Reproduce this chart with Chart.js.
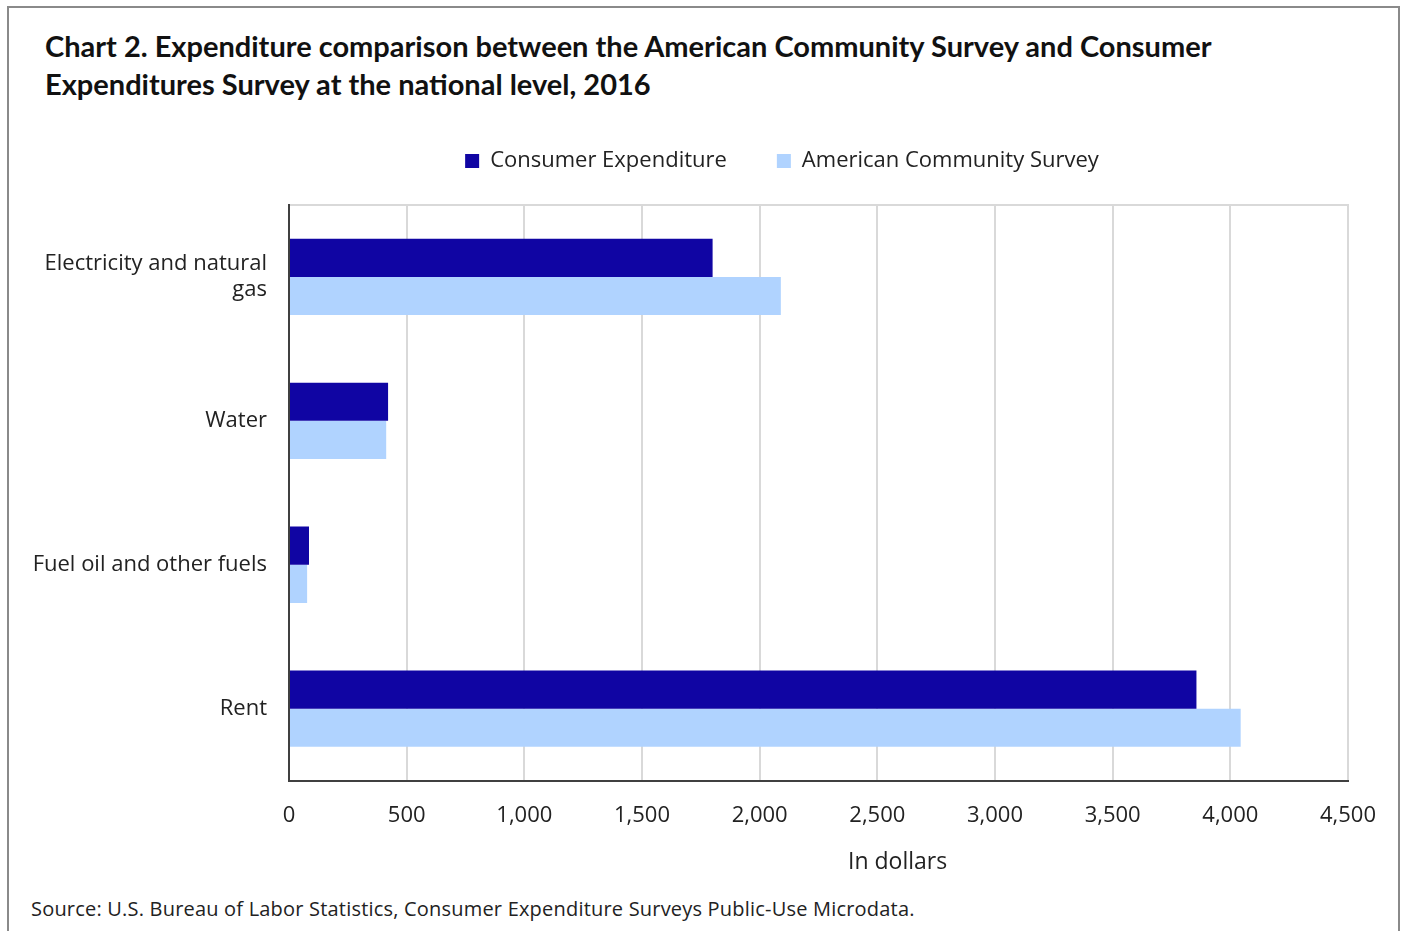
<!DOCTYPE html>
<html>
<head>
<meta charset="utf-8">
<script src="https://cdn.jsdelivr.net/npm/chart.js@4"></script>
<style>
    body { margin: 0; background: #fff; font-family: 'Open Sans', sans-serif; }
    #frame { position: absolute; left: 7px; top: 6px; width: 1389px; height: 1000px; border: 2px solid #8a8a8a; }
    #title { position: absolute; left: 45px; top: 27px; font-family: Lato, sans-serif; font-weight: bold; font-size: 29px; line-height: 38px; color: #111; }
    #wrap { position: absolute; left: 0; top: 100px; width: 1401px; height: 795px; }
    #xTitle { position: absolute; left: 848px; top: 844px; font-size: 23px; color: #222; }
    #source { position: absolute; left: 31px; top: 895px; font-size: 20px; letter-spacing: 0.2px; color: #222; }
</style>
</head>
<body>
<div id="frame"></div>
<div id="title">Chart 2. Expenditure comparison between the American Community Survey and Consumer<br>Expenditures Survey at the national level, 2016</div>
<div id="wrap"><canvas id="chart"></canvas></div>
<div id="xTitle">In dollars</div>
<div id="source">Source: U.S. Bureau of Labor Statistics, Consumer Expenditure Surveys Public-Use Microdata.</div>
<script>
// Dữ liệu
const categories = [['Electricity and natural', 'gas'], 'Water', 'Fuel oil and other fuels', 'Rent'];
const consumerExpenditure = [1800, 421, 85, 3856];
const communitySurvey = [2090, 413, 77, 4044];
const xTicks = [0, 500, 1000, 1500, 2000, 2500, 3000, 3500, 4000, 4500];

const fontBase = { family: "'Open Sans', sans-serif", size: 22 };

// Legend: cố định chiều cao và dịch sang phải như bản gốc
const legendTweak = {
    id: 'legendTweak',
    beforeInit(chart) {
        const fit = chart.legend.fit;
        chart.legend.fit = function () {
            fit.bind(chart.legend)();
            this.height = 105;
        };
    },
    afterLayout(chart) {
        const lg = chart.legend;
        lg.left += 98;
        lg.right += 98;
        lg.adjustHitBoxes();
    }
};

new Chart(document.getElementById('chart'), {
    type: 'bar',
    data: {
        labels: categories,
        datasets: [
            {
                label: 'Consumer Expenditure',
                data: consumerExpenditure,
                backgroundColor: '#1005a3',
                categoryPercentage: 0.53,
                barPercentage: 1
            },
            {
                label: 'American Community Survey',
                data: communitySurvey,
                backgroundColor: '#b0d3ff',
                categoryPercentage: 0.53,
                barPercentage: 1
            }
        ]
    },
    plugins: [legendTweak],
    options: {
        indexAxis: 'y',
        responsive: true,
        maintainAspectRatio: false,
        animation: false,
        layout: { padding: { left: 20, right: 53, top: 0, bottom: 44 } },
        plugins: {
            legend: {
                position: 'top',
                labels: {
                    font: fontBase,
                    color: '#222',
                    boxWidth: 14,
                    boxHeight: 14,
                    padding: 50
                }
            },
            tooltip: { enabled: false }
        },
        scales: {
            x: {
                min: 0,
                max: 4500,
                afterBuildTicks: scale => { scale.ticks = xTicks.map(v => ({ value: v })); },
                ticks: {
                    font: fontBase,
                    color: '#222',
                    padding: 22,
                    maxRotation: 0,
                    callback: v => v.toLocaleString('en-US')
                },
                grid: { color: '#d9d9d9', lineWidth: 2, drawTicks: false },
                border: { color: '#404040', width: 2 }
            },
            xTop: {
                position: 'top',
                min: 0,
                max: 4500,
                ticks: { display: false },
                grid: { display: false, drawTicks: false },
                border: { color: '#d9d9d9', width: 2 }
            },
            y: {
                ticks: {
                    font: fontBase,
                    color: '#222',
                    padding: 22
                },
                afterFit: scale => { scale.width = 269; },
                grid: { display: false, drawTicks: false },
                border: { color: '#404040', width: 2 }
            }
        }
    }
});
</script>
</body>
</html>
